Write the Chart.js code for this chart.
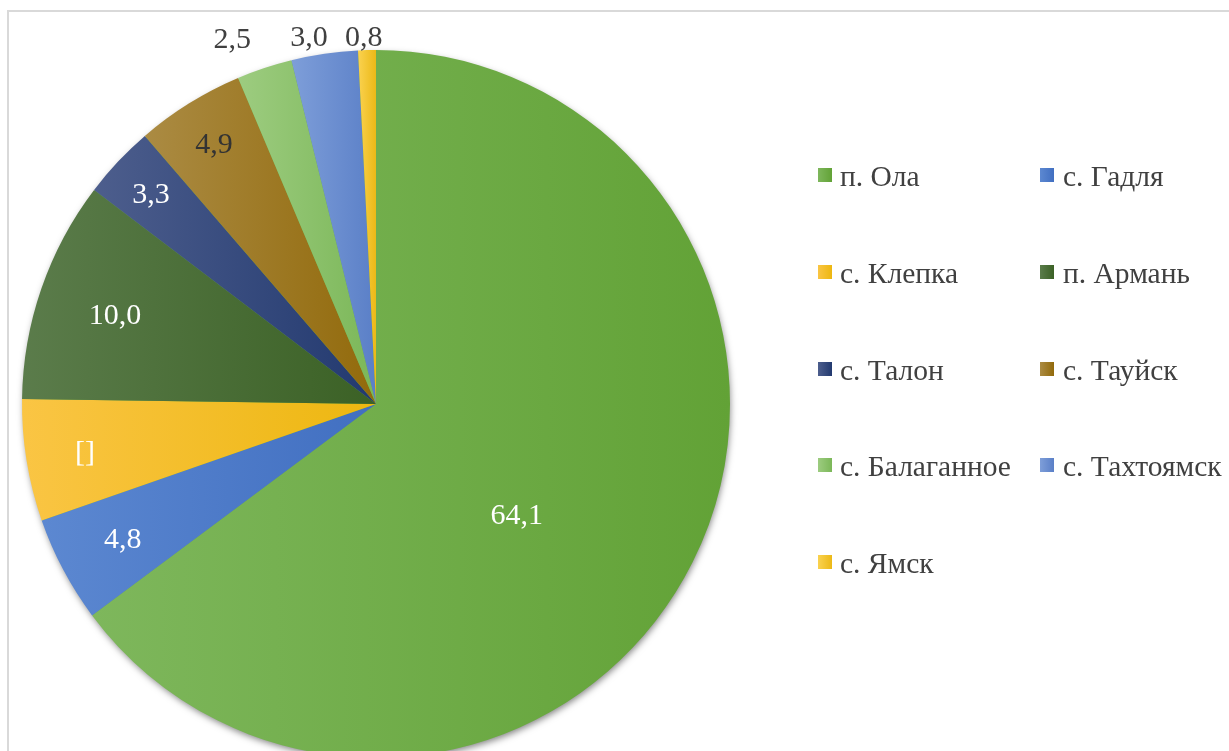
<!DOCTYPE html>
<html><head><meta charset="utf-8">
<script src="https://cdn.jsdelivr.net/npm/chart.js@4"></script>
<style>
html,body{margin:0;padding:0;background:#fff;overflow:hidden;width:1229px;height:751px;}
#frame{position:absolute;left:7px;top:10px;width:1300px;height:800px;border-left:2px solid #d9d9d9;border-top:2px solid #d9d9d9;box-sizing:border-box;}
#wrap{position:absolute;left:0;top:0;width:1229px;height:800px;}
#legend{position:absolute;left:0;top:0;font-family:"Liberation Serif","Times New Roman",serif;font-size:29.5px;color:#404040;}
.item{position:absolute;white-space:nowrap;line-height:29.5px;height:32px;}
.sw{position:absolute;left:0;top:6px;width:14px;height:14px;}
.tx{position:absolute;top:0;}
</style></head>
<body>
<div id="frame"></div>
<div id="wrap"><canvas id="c" width="1229" height="800"></canvas></div>
<div id="legend"></div>
<script>
// ---- data ----
const categories = ['п. Ола','с. Гадля','с. Клепка','п. Армань','с. Талон','с. Тауйск','с. Балаганное','с. Тахтоямск','с. Ямск'];
const values = [64.1, 4.8, 5.5, 10.0, 3.3, 4.9, 2.5, 3.0, 0.8];
const labelOverride = {2: '[]'};

// ---- styles ----
const lightColors = ['#7EB75C','#5C88D1','#FAC544','#5B7C4B','#4D5E8D','#AB8B43','#9DCC80','#7E9ED9','#FAD250'];
const darkColors  = ['#62A236','#416FC1','#EDB710','#3B6125','#22396F','#926A0B','#7BB758','#5A7FC7','#ECB917'];
const labelColors = ['#ffffff','#ffffff','#ffffff','#ffffff','#ffffff','#333333','#404040','#404040','#404040'];
const labelRadius = [0.505, 0.81, 0.833, 0.78, 0.872, 0.867, 1.09, 1.05, 1.04];
const labelNudge  = [[-19,30],[0,0],[0,0],[0,0],[0,0],[0,0],[-22,0],[-13,0],[-3,0]];
const labelFontSize = 30;

function sliceGradient(c){
  const chart=c.chart, area=chart.chartArea, i=c.dataIndex;
  if(!area || i===undefined) return darkColors[i||0];
  const cx=(area.left+area.right)/2, r=Math.min(area.width,area.height)/2;
  const total=values.reduce((a,b)=>a+b,0);
  let cum=0; for(let k=0;k<i;k++) cum+=values[k];
  const a0=-Math.PI/2+2*Math.PI*cum/total, a1=a0+2*Math.PI*values[i]/total;
  const xs=[cx, cx+r*Math.cos(a0), cx+r*Math.cos(a1)];
  for(const t of [0,Math.PI]) if(t>=a0 && t<=a1) xs.push(cx+r*Math.cos(t));
  const x0=Math.min(...xs), x1=Math.max(...xs);
  const g=chart.ctx.createLinearGradient(x0,0,x1+0.01,0);
  g.addColorStop(0,lightColors[i]); g.addColorStop(1,darkColors[i]);
  return g;
}

const shadowPlugin={id:'shadow',beforeDatasetsDraw(chart){
  const el=chart.getDatasetMeta(0).data[0]; if(!el) return;
  const ctx=chart.ctx; ctx.save();
  ctx.shadowColor='rgba(0,0,0,0.5)'; ctx.shadowBlur=7; ctx.shadowOffsetX=1; ctx.shadowOffsetY=3;
  ctx.beginPath(); ctx.arc(el.x,el.y,el.outerRadius-1,0,Math.PI*2); ctx.fillStyle='#6aa843'; ctx.fill();
  ctx.restore();
}};

const labelPlugin={id:'vlabels',afterDatasetsDraw(chart){
  const ctx=chart.ctx, meta=chart.getDatasetMeta(0);
  ctx.save();
  ctx.font=labelFontSize+'px "Liberation Serif", "Times New Roman", serif';
  ctx.textAlign='center'; ctx.textBaseline='alphabetic';
  meta.data.forEach((el,i)=>{
    const mid=(el.startAngle+el.endAngle)/2, rr=el.outerRadius*labelRadius[i];
    const x=el.x+Math.cos(mid)*rr+labelNudge[i][0];
    const y=el.y+Math.sin(mid)*rr+labelNudge[i][1];
    const txt = labelOverride[i]!==undefined ? labelOverride[i] : values[i].toFixed(1).replace('.',',');
    ctx.fillStyle=labelColors[i];
    ctx.fillText(txt,x,y+labelFontSize*0.338);
  });
  ctx.restore();
}};

new Chart(document.getElementById('c'),{
  type:'pie',
  data:{labels:categories,datasets:[{data:values,backgroundColor:sliceGradient,borderWidth:0}]},
  options:{
    responsive:false, animation:false,
    layout:{padding:{left:22,right:499,top:50,bottom:42}},
    plugins:{legend:{display:false},tooltip:{enabled:false}}
  },
  plugins:[shadowPlugin,labelPlugin]
});

// legend
const leg=document.getElementById('legend');
categories.forEach((name,i)=>{
  const row=Math.floor(i/2), col=i%2;
  const d=document.createElement('div'); d.className='item';
  d.style.left=(col===0?818:1040)+'px';
  d.style.top=(162+row*96.8)+'px';
  const s=document.createElement('span'); s.className='sw';
  s.style.background='linear-gradient(to right,'+lightColors[i]+','+darkColors[i]+')';
  const t=document.createElement('span'); t.className='tx'; t.style.left=(col===0?22:23)+'px'; t.textContent=name;
  d.appendChild(s); d.appendChild(t); leg.appendChild(d);
});
</script>
</body></html>
